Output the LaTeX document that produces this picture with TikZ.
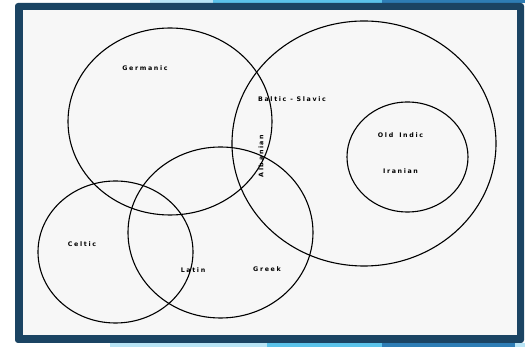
\documentclass[tikz,border=0pt]{standalone}
\usepackage{fontspec}
\newfontfamily\lblfont[LetterSpace=26]{DejaVu Sans Bold}
\usetikzlibrary{shapes.geometric}
\definecolor{navy}{HTML}{1B4463}
\definecolor{paper}{HTML}{F7F7F7}
\definecolor{sky}{HTML}{5BC3EA}
\definecolor{pale}{HTML}{B8E4F5}
\definecolor{midblue}{HTML}{2E7DB5}
\tikzset{
  set/.style={ellipse, draw=black, line width=1.1pt, inner sep=0pt},
  lbl/.style={font=\lblfont\fontsize{6.3}{7}\selectfont, inner sep=0pt, text=black}
}
\begin{document}
\begin{tikzpicture}[x=1pt,y=-1pt]
\useasboundingbox (0,0) rectangle (525,347);
% outer decoration strips
\fill[white] (0,0) rectangle (525,347);
\fill[pale] (150,0) rectangle (213,3);
\fill[sky] (213,0) rectangle (382,3);
\fill[midblue] (382,0) rectangle (525,3);
\fill[pale] (110,343) rectangle (267,347);
\fill[sky] (267,343) rectangle (382,347);
\fill[midblue] (382,343) rectangle (515,347);
\fill[pale] (515,343) rectangle (525,347);
% frame
\fill[navy, rounded corners=3pt] (15,3) rectangle (524,343);
\fill[paper] (23,10) rectangle (517,335.5);
% sets
\node[set, minimum width=204, minimum height=187] (germ) at (170,121.5) {};
\node[set, minimum width=264, minimum height=245] (east) at (364,143.5) {};
\node[set, minimum width=121, minimum height=110] (indo) at (407.5,157) {};
\node[set, minimum width=185, minimum height=171] (greek) at (220.5,232.5) {};
\node[set, minimum width=155, minimum height=142] (celt) at (115.5,252) {};
% labels
\node[lbl] (lgerm) at (145,68) {Germanic};
\node[lbl] (lbalt) at (292,99) {Baltic - Slavic};
\node[lbl, rotate=90] (lalb) at (261,156) {Albanian};
\node[lbl] (lind) at (400.5,135) {Old\hspace{6pt}Indic};
\node[lbl] (liran) at (400.5,171) {Iranian};
\node[lbl] (lcelt) at (82,244) {Celtic};
\node[lbl] (llat) at (193,270) {Latin};
\node[lbl] (lgreek) at (267,269) {Greek};
\end{tikzpicture}
\end{document}
